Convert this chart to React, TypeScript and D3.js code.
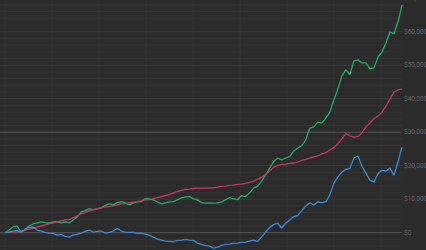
import React from "react";
import * as d3 from "d3";

const W = 426;
const H = 250;

// values in thousands of dollars, one point per period
const greenSeries = [
  0, 0.8, 1.7, 2.0, 0.2, 0.8, 2.0, 2.6, 2.9, 3.2, 3.0, 2.9, 3.2, 3.3, 2.9, 3.2, 2.9, 3.8, 4.7, 6.2,
  6.6, 7.2, 6.8, 7.1, 7.5, 8.1, 8.7, 8.3, 9.0, 9.3, 8.9, 8.3, 8.9, 9.2, 9.3, 10.2, 10.1, 9.8, 9.2, 8.6,
  8.9, 9.2, 9.3, 9.8, 10.4, 10.7, 10.8, 10.1, 9.8, 9.0, 8.8, 8.9, 8.8, 8.9, 9.2, 9.8, 10.5, 10.1, 9.9, 11.1,
  10.8, 11.9, 13.3, 13.9, 15.4, 17.2, 19.3, 21.2, 22.3, 21.7, 22.3, 22.7, 24.4, 25.3, 26.0, 27.7, 31.2, 31.6, 33.0, 32.7,
  34.2, 36.0, 39.6, 42.9, 46.8, 48.6, 47.2, 51.3, 51.6, 50.7, 50.7, 48.9, 49.2, 52.4, 53.9, 56.6, 59.9, 59.4, 62.9, 68.0,
];
const pinkSeries = [
  0, 0.1, 0.2, 0.2, 0.4, 0.8, 1.1, 1.3, 1.7, 2.0, 2.3, 2.7, 2.9, 3.2, 3.5, 3.8, 3.9, 4.4, 5.0, 5.6,
  6.0, 6.5, 6.8, 7.1, 7.4, 7.7, 7.8, 8.1, 8.3, 8.6, 8.7, 8.9, 9.1, 9.3, 9.5, 9.8, 9.9, 10.2, 10.5, 10.8,
  11.1, 11.4, 11.9, 12.3, 12.6, 12.9, 13.0, 13.2, 13.3, 13.3, 13.3, 13.4, 13.4, 13.6, 13.8, 13.9, 14.1, 14.2, 14.4, 14.5,
  14.7, 15.0, 15.4, 15.9, 16.6, 17.4, 18.4, 19.5, 20.1, 20.4, 20.5, 20.7, 20.8, 21.1, 21.6, 21.9, 22.3, 22.6, 22.9, 23.5,
  23.9, 24.7, 25.4, 26.5, 28.0, 29.6, 28.9, 28.5, 28.7, 29.8, 31.6, 32.7, 34.1, 34.8, 36.0, 37.8, 39.9, 42.0, 42.6, 42.9,
];
const blueSeries = [
  0, 0.2, 0.5, 0.7, 0.2, 1.1, 1.6, 1.7, 0.8, 0.5, 0.1, -0.1, -0.2, -0.7, -0.5, -1.1, -1.3, -0.7, -0.5, -0.1,
  0.4, 0.8, 0.2, 0.4, 0.5, -0.1, 0.1, 0.5, 1.3, 0.5, 0.2, 0.1, 0.2, -0.2, -0.1, -0.4, -0.8, -1.3, -1.9, -2.2,
  -2.5, -2.6, -2.7, -2.3, -2.2, -2.0, -2.2, -2.3, -3.1, -3.5, -3.8, -4.0, -4.6, -4.3, -3.8, -3.5, -3.4, -3.2, -3.1, -2.9,
  -2.8, -2.5, -2.2, -2.6, -1.3, 0.2, 1.6, 2.4, 2.9, 1.4, 2.9, 3.8, 4.8, 5.1, 6.5, 8.0, 8.9, 8.3, 9.2, 9.0,
  9.2, 11.3, 14.8, 16.6, 18.1, 18.9, 19.2, 22.3, 22.9, 19.9, 17.8, 15.7, 15.1, 17.5, 18.7, 18.4, 19.3, 17.2, 21.1, 25.6,
];

const yMajorTicks = [0, 10, 20, 30, 40, 50, 60, 70];
const yHighlight = [0, 30];
const xPeriodsPerGrid = 11.72;

const series = [
  { name: "green", values: greenSeries, color: "#1fae6c" },
  { name: "pink", values: pinkSeries, color: "#cf3567" },
  { name: "blue", values: blueSeries, color: "#3a8ddb" },
];

const fmt = (k: number) => "$" + d3.format(",")(k * 1000);

export default function App() {
  const n = greenSeries.length;
  const x = d3.scaleLinear().domain([0, n - 1]).range([5, 402]);
  const y = d3.scaleLinear().domain([0, 70]).range([232.7, -1.8]);

  const minorTicks = d3.range(-4, 72, 2).filter((v) => v % 10 !== 0);
  const xGrid = d3.range(0, n, xPeriodsPerGrid);

  const line = d3
    .line<number>()
    .x((_, i) => x(i))
    .y((v) => y(v));

  return (
    <svg
      width={W}
      height={H}
      style={{ position: "absolute", left: 0, top: 0, display: "block" }}
    >
      <rect x={0} y={0} width={W} height={H} fill="#2b2b2b" />
      {minorTicks.map((t) => (
        <line key={"mi" + t} x1={0} x2={402} y1={y(t)} y2={y(t)} stroke="#333333" strokeWidth={1} />
      ))}
      {xGrid.map((t, i) => (
        <line key={"vx" + i} x1={x(t)} x2={x(t)} y1={0} y2={H} stroke="#343434" strokeWidth={1} />
      ))}
      {yMajorTicks.map((t) => (
        <line
          key={"ma" + t}
          x1={0}
          x2={402}
          y1={y(t)}
          y2={y(t)}
          stroke={yHighlight.includes(t) ? "#575757" : "#3c3c3c"}
          strokeWidth={1}
        />
      ))}
      {series.map((s) => (
        <path
          key={s.name}
          d={line(s.values) || ""}
          fill="none"
          stroke={s.color}
          strokeWidth={1.3}
          strokeLinejoin="round"
        />
      ))}
      {yMajorTicks.map((t) => (
        <text
          key={"lb" + t}
          x={404}
          y={y(t)}
          dy="0.35em"
          fontSize={6.5}
          fontFamily="Roboto, 'Liberation Sans', sans-serif"
          fill="#6a6a6a"
        >
          {fmt(t)}
        </text>
      ))}
    </svg>
  );
}
